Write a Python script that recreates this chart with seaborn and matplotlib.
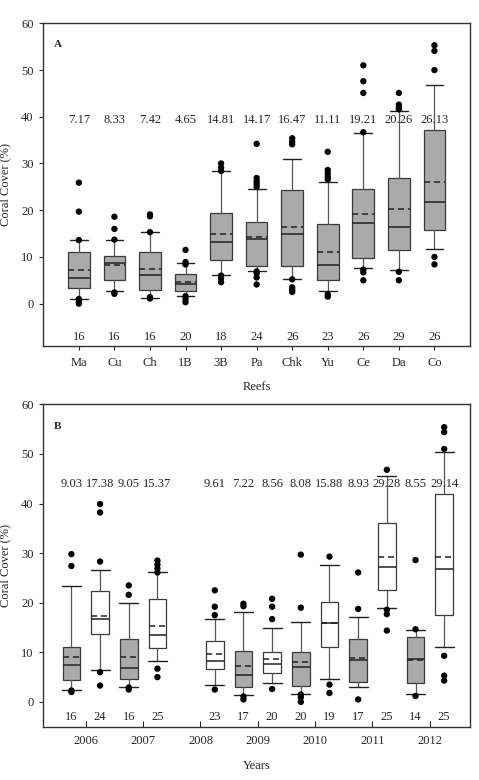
import seaborn as sns
import matplotlib.pyplot as plt
import pandas as pd

# ---- panel A : coral cover by reef ----
reefs = ['Ma', 'Cu', 'Ch', '1B', '3B', 'Pa', 'Chk', 'Yu', 'Ce', 'Da', 'Co']
a_mean = [7.17, 8.33, 7.42, 4.65, 14.81, 14.17, 16.47, 11.11, 19.21, 20.26, 26.13]
a_n = [16, 16, 16, 20, 18, 24, 26, 23, 26, 29, 26]
a_q1 = [3.4, 5.1, 2.9, 2.8, 9.4, 8.1, 8.0, 5.0, 9.7, 11.5, 15.8]
a_med = [5.5, 8.6, 6.1, 4.1, 13.1, 13.9, 15.0, 8.3, 17.2, 16.3, 21.7]
a_q3 = [11.1, 10.1, 11.1, 6.3, 19.4, 17.5, 24.3, 17.0, 24.5, 26.9, 37.2]
a_lo = [0.9, 2.6, 1.3, 1.6, 6.1, 6.9, 5.2, 2.7, 7.7, 7.2, 11.7]
a_hi = [13.6, 13.7, 15.3, 8.6, 28.4, 24.5, 30.9, 26.0, 36.5, 41.3, 46.7]
a_out = [
    [25.9, 19.7, 13.6, 1.0, 0.4, 0.0],
    [18.6, 16.0, 13.7, 2.4, 2.1],
    [19.1, 18.7, 15.3, 1.4, 1.1],
    [11.5, 8.9, 8.4, 1.6, 1.0, 0.3],
    [30.0, 29.1, 28.4, 6.0, 5.4, 4.6],
    [34.2, 26.9, 26.2, 25.6, 25.0, 6.9, 6.5, 5.6, 4.1],
    [35.4, 34.7, 34.1, 5.2, 3.5, 3.0, 2.5],
    [32.5, 28.6, 27.9, 27.2, 26.6, 2.0, 1.5],
    [51.0, 47.6, 45.1, 36.7, 7.3, 6.7, 5.0],
    [45.1, 42.6, 42.0, 41.6, 6.8, 5.0],
    [55.3, 54.1, 50.0, 10.0, 8.4],
]

# ---- panel B : coral cover by year (grey / white groups) ----
years = [2006, 2007, 2008, 2009, 2010, 2011, 2012]
b_year = [2006, 2006, 2007, 2007, 2008, 2009, 2009, 2010, 2010, 2011, 2011, 2012, 2012]
b_group = ['g', 'w', 'g', 'w', 'w', 'g', 'w', 'g', 'w', 'g', 'w', 'g', 'w']
b_mean = [9.03, 17.38, 9.05, 15.37, 9.61, 7.22, 8.56, 8.08, 15.88, 8.93, 29.28, 8.55, 29.14]
b_n = [16, 24, 16, 25, 23, 17, 20, 20, 19, 17, 25, 14, 25]
b_q1 = [4.4, 13.6, 4.7, 10.8, 6.7, 3.0, 5.85, 3.3, 11.1, 4.0, 22.6, 3.8, 17.6]
b_med = [7.4, 16.7, 6.9, 13.4, 8.35, 5.4, 7.7, 7.05, 15.9, 8.4, 27.2, 8.7, 26.8]
b_q3 = [11.0, 22.4, 12.6, 20.8, 12.3, 10.3, 10.1, 10.1, 20.2, 12.6, 36.0, 13.1, 41.9]
b_lo = [2.5, 6.5, 3.1, 8.35, 3.4, 1.4, 3.8, 1.5, 4.6, 3.1, 19.0, 1.5, 11.0]
b_hi = [23.4, 26.5, 20.0, 26.1, 16.8, 18.1, 15.0, 16.2, 27.6, 17.1, 45.5, 14.45, 50.4]
b_out = [
    [29.8, 27.4, 2.3, 2.0],
    [39.9, 38.2, 28.3, 6.0, 3.3],
    [23.5, 21.6, 2.9, 2.5],
    [28.5, 27.7, 26.9, 26.1, 6.7, 5.0],
    [22.5, 19.2, 17.5, 2.5],
    [19.8, 19.3, 1.1, 0.5],
    [20.8, 19.2, 16.7, 2.6],
    [29.7, 19.0, 1.5, 0.9, 0.0],
    [29.3, 3.5, 1.8],
    [26.1, 18.75, 0.5],
    [46.8, 18.6, 17.7, 14.4],
    [28.6, 14.65, 1.2],
    [55.4, 54.4, 51.0, 9.3, 5.3, 4.3],
]

sns.set_style('ticks')
plt.rcParams['font.family'] = ['Liberation Serif', 'DejaVu Serif']
plt.rcParams['font.size'] = 9
plt.rcParams['axes.edgecolor'] = '#333333'
plt.rcParams['axes.linewidth'] = 1.0

GREY = '#aaaaaa'
EDGE = '#3a3a3a'


def make_stats(q1, med, q3, lo, hi, mean):
    return [dict(q1=a, med=b, q3=c, whislo=d, whishi=e, mean=f, fliers=[])
            for a, b, c, d, e, f in zip(q1, med, q3, lo, hi, mean)]


def draw_boxes(ax, stats, pos, colors, width, capw):
    parts = ax.bxp(stats, positions=pos, widths=width, capwidths=capw,
                   patch_artist=True, showmeans=True, meanline=True,
                   showfliers=False, manage_ticks=False,
                   boxprops=dict(edgecolor=EDGE, linewidth=0.9),
                   medianprops=dict(color='#222222', linewidth=1.1),
                   meanprops=dict(color='#222222', linewidth=1.1, linestyle=(0, (4, 2.5))),
                   whiskerprops=dict(color='#555555', linewidth=0.9),
                   capprops=dict(color='#222222', linewidth=1.0))
    for box, c in zip(parts['boxes'], colors):
        box.set_facecolor(c)


def draw_outliers(ax, pos, outs):
    df = pd.DataFrame([(p, v) for p, vals in zip(pos, outs) for v in vals],
                      columns=['pos', 'value'])
    sns.scatterplot(data=df, x='pos', y='value', color='black', s=21,
                    edgecolor='none', ax=ax, legend=False, zorder=5)


fig = plt.figure(figsize=(4.79, 7.8), dpi=100)
axA = fig.add_axes([0.0904, 0.5568, 0.8908, 0.4133])
axB = fig.add_axes([0.0904, 0.0683, 0.8908, 0.4133])

# panel A
posA = list(range(1, len(reefs) + 1))
draw_boxes(axA, make_stats(a_q1, a_med, a_q3, a_lo, a_hi, a_mean), posA,
           [GREY] * len(reefs), 0.61, 0.5)
draw_outliers(axA, posA, a_out)
for p, m, n in zip(posA, a_mean, a_n):
    axA.text(p, 39.3, f'{m:.2f}', ha='center', va='center', fontsize=9)
    axA.text(p, -7.1, f'{n}', ha='center', va='center', fontsize=9)
axA.set_xlim(0, 12)
axA.set_ylim(-9, 60)
axA.set_xticks(posA)
axA.set_xticklabels(reefs)
axA.set_yticks(range(0, 61, 10))
axA.tick_params(axis='both', direction='out', length=3, width=0.8, pad=4, labelsize=9)
axA.tick_params(axis='x', pad=5)
axA.set_xlabel('Reefs', fontsize=9, labelpad=9)
axA.set_ylabel('Coral Cover (%)', fontsize=9, labelpad=7)
axA.text(0.025, 0.935, 'A', transform=axA.transAxes, fontweight='bold',
         fontsize=8, ha='left', va='center')

# panel B
offset = {'g': -0.25, 'w': 0.25}
posB = [years.index(y) + offset[g] for y, g in zip(b_year, b_group)]
colB = [GREY if g == 'g' else 'white' for g in b_group]
draw_boxes(axB, make_stats(b_q1, b_med, b_q3, b_lo, b_hi, b_mean), posB,
           colB, 0.31, 0.33)
draw_outliers(axB, posB, b_out)
for p, m, n in zip(posB, b_mean, b_n):
    axB.text(p, 44.0, f'{m:.2f}', ha='center', va='center', fontsize=9)
    axB.text(p, -3.1, f'{n}', ha='center', va='center', fontsize=9)
axB.set_xlim(-0.74, 6.7)
axB.set_ylim(-5, 60)
axB.set_xticks(range(len(years)))
axB.set_xticklabels([str(y) for y in years])
axB.set_yticks(range(0, 61, 10))
axB.tick_params(axis='y', direction='out', length=3, width=0.8, pad=4, labelsize=9)
axB.tick_params(axis='x', direction='in', length=4, width=0.8, pad=6, labelsize=9)
axB.set_xlabel('Years', fontsize=9, labelpad=9)
axB.set_ylabel('Coral Cover (%)', fontsize=9, labelpad=7)
axB.text(0.025, 0.93, 'B', transform=axB.transAxes, fontweight='bold',
         fontsize=8, ha='left', va='center')

fig.savefig('out.png', dpi=100)
